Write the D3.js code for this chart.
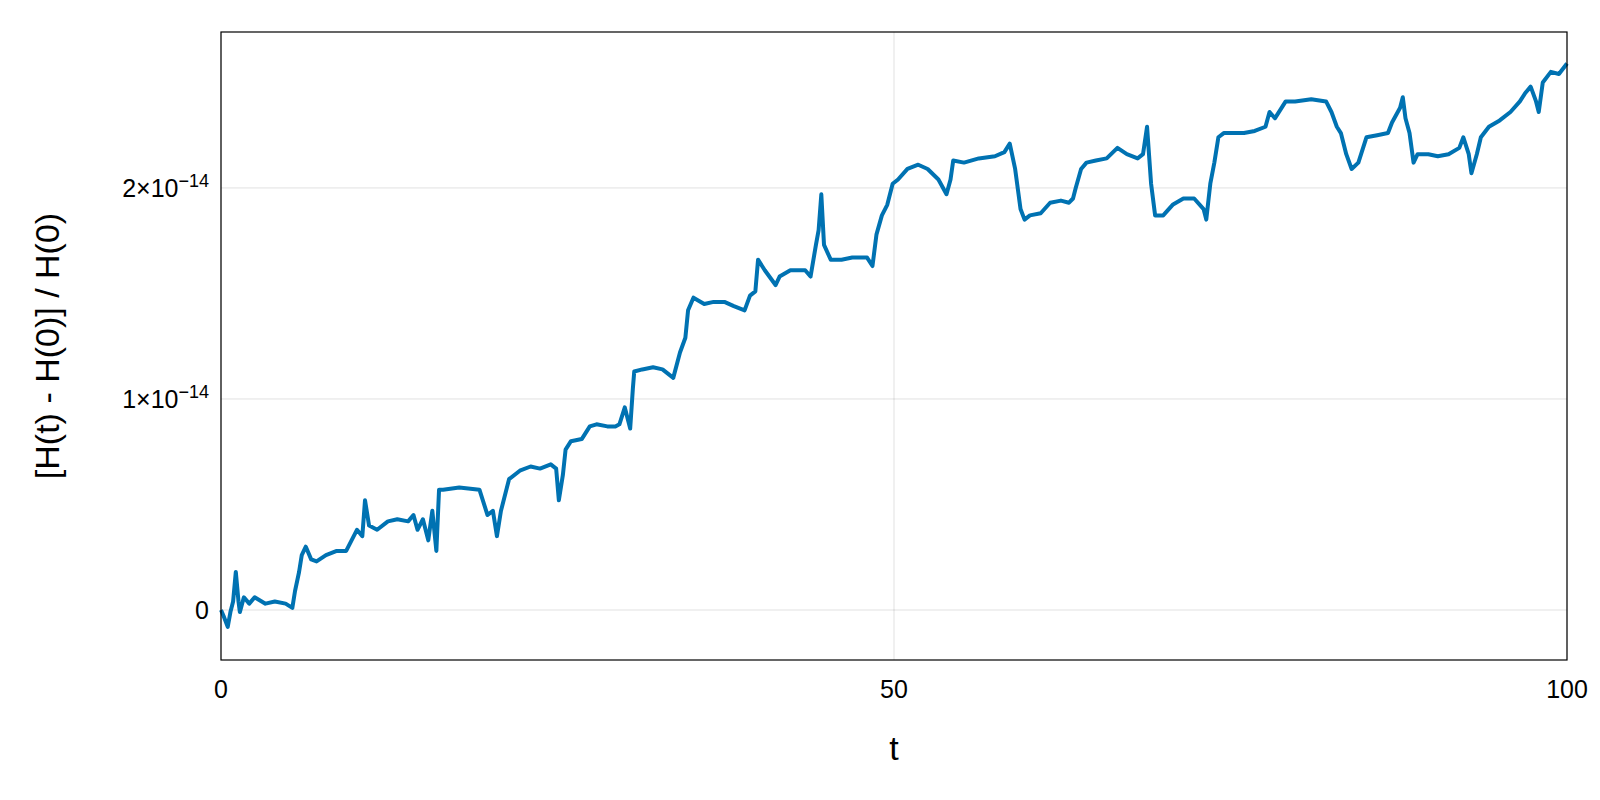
<!DOCTYPE html>
<html>
<head>
<meta charset="utf-8">
<script src="https://cdn.jsdelivr.net/npm/d3@7"></script>
<style>
  body { margin: 0; background: #fff; }
  text { font-family: "Liberation Sans", Arial, sans-serif; fill: #000; }
</style>
</head>
<body>
<div id="chart"></div>
<script>
// time values
let tValues = [0, 0.2, 0.5, 0.7, 0.9, 1.1, 1.3, 1.4, 1.7, 2.1, 2.5, 3.3, 4.0, 4.8, 5.3, 5.5, 5.8, 6.0, 6.3, 6.7,
    7.1, 7.8, 8.6, 9.3, 9.7, 10.1, 10.5, 10.7, 11.0, 11.6, 12.4, 13.1, 13.9, 14.3, 14.6, 15.0, 15.4, 15.7, 16.0, 16.2,
    16.5, 17.7, 19.2, 19.8, 20.2, 20.5, 20.8, 21.4, 22.2, 23.0, 23.7, 24.5, 24.9, 25.1, 25.4, 25.6, 26.0, 26.8, 27.4, 27.9,
    28.7, 29.3, 29.6, 30.0, 30.4, 30.6, 30.7, 31.3, 32.1, 32.8, 33.6, 34.1, 34.5, 34.7, 35.1, 35.9, 36.6, 37.4, 38.1, 38.9,
    39.3, 39.7, 39.9, 40.4, 41.2, 41.5, 42.3, 43.4, 43.8, 44.2, 44.4, 44.6, 44.8, 45.3, 46.1, 46.9, 48.0, 48.4, 48.7, 49.1,
    49.5, 49.9, 50.3, 51.0, 51.8, 52.5, 53.3, 53.9, 54.2, 54.4, 55.2, 56.3, 57.5, 58.2, 58.6, 59.0, 59.4, 59.7, 60.1, 60.9,
    61.6, 62.4, 63.0, 63.3, 63.5, 63.9, 64.3, 65.0, 65.8, 66.6, 67.3, 68.1, 68.5, 68.8, 69.1, 69.4, 70.0, 70.7, 71.5, 72.3,
    73.0, 73.2, 73.5, 73.8, 74.1, 74.5, 75.3, 76.0, 76.8, 77.6, 77.9, 78.3, 79.1, 79.8, 81.0, 82.1, 82.5, 82.9, 83.2, 83.6,
    84.0, 84.5, 85.1, 85.9, 86.7, 87.0, 87.6, 87.8, 88.0, 88.3, 88.6, 88.9, 89.7, 90.4, 91.2, 92.0, 92.3, 92.7, 92.9, 93.3,
    93.6, 94.2, 95.0, 95.8, 96.5, 96.9, 97.3, 97.7, 97.9, 98.2, 98.8, 99.4, 100];

// relative energy error, in units of 1e-14
let hValues = [0, -0.03, -0.08, -0.01, 0.04, 0.18, 0.04, -0.01, 0.06, 0.03, 0.06, 0.03, 0.04, 0.03, 0.01, 0.09, 0.18, 0.26, 0.30, 0.24,
    0.23, 0.26, 0.28, 0.28, 0.33, 0.38, 0.35, 0.52, 0.40, 0.38, 0.42, 0.43, 0.42, 0.45, 0.38, 0.43, 0.33, 0.47, 0.28, 0.57,
    0.57, 0.58, 0.57, 0.45, 0.47, 0.35, 0.47, 0.62, 0.66, 0.68, 0.67, 0.69, 0.67, 0.52, 0.64, 0.76, 0.80, 0.81, 0.87, 0.88,
    0.87, 0.87, 0.88, 0.96, 0.86, 1.05, 1.13, 1.14, 1.15, 1.14, 1.10, 1.22, 1.29, 1.42, 1.48, 1.45, 1.46, 1.46, 1.44, 1.42,
    1.49, 1.51, 1.66, 1.61, 1.54, 1.58, 1.61, 1.61, 1.58, 1.73, 1.80, 1.97, 1.73, 1.66, 1.66, 1.67, 1.67, 1.63, 1.78, 1.87,
    1.92, 2.02, 2.04, 2.09, 2.11, 2.09, 2.04, 1.97, 2.04, 2.13, 2.12, 2.14, 2.15, 2.17, 2.21, 2.09, 1.90, 1.85, 1.87, 1.88,
    1.93, 1.94, 1.93, 1.95, 2.00, 2.09, 2.12, 2.13, 2.14, 2.19, 2.16, 2.14, 2.16, 2.29, 2.02, 1.87, 1.87, 1.92, 1.95, 1.95,
    1.90, 1.85, 2.02, 2.12, 2.24, 2.26, 2.26, 2.26, 2.27, 2.29, 2.36, 2.33, 2.41, 2.41, 2.42, 2.41, 2.36, 2.29, 2.26, 2.16,
    2.09, 2.12, 2.24, 2.25, 2.26, 2.31, 2.38, 2.43, 2.33, 2.26, 2.12, 2.16, 2.16, 2.15, 2.16, 2.19, 2.24, 2.16, 2.07, 2.16,
    2.24, 2.29, 2.32, 2.36, 2.41, 2.45, 2.48, 2.41, 2.36, 2.50, 2.55, 2.54, 2.59];

let xTicks = [0, 50, 100];
let yTicks = [0, 1, 2];

let margin = {top: 32, right: 33, bottom: 140, left: 221};
let width = 1600 - margin.left - margin.right;
let height = 800 - margin.top - margin.bottom;

let root = d3.select('#chart').append('svg')
    .attr('width', 1600)
    .attr('height', 800);
let svg = root.append('g')
    .attr('transform', 'translate(' + margin.left + ', ' + margin.top + ')');

let x = d3.scaleLinear().domain([0, 100]).range([0, width]);
let y = d3.scaleLinear().domain([-0.237, 2.739]).range([height, 0]);

// grid
svg.selectAll('.gx').data(xTicks).enter().append('line')
    .attr('x1', d => x(d)).attr('x2', d => x(d))
    .attr('y1', 0).attr('y2', height)
    .style('stroke', '#000').style('stroke-opacity', 0.12).style('stroke-width', 1);
svg.selectAll('.gy').data(yTicks).enter().append('line')
    .attr('y1', d => y(d)).attr('y2', d => y(d))
    .attr('x1', 0).attr('x2', width)
    .style('stroke', '#000').style('stroke-opacity', 0.12).style('stroke-width', 1);

// data line
let data = tValues.map((t, i) => ({t: t, h: hValues[i]}));
svg.append('path')
    .datum(data)
    .attr('d', d3.line().x(d => x(d.t)).y(d => y(d.h)))
    .style('fill', 'none')
    .style('stroke', '#0072b2')
    .style('stroke-width', 4)
    .style('stroke-linejoin', 'round');

// frame
svg.append('rect')
    .attr('width', width).attr('height', height)
    .style('fill', 'none').style('stroke', '#000').style('stroke-width', 1.2);

// x tick labels
svg.selectAll('.xt').data(xTicks).enter().append('text')
    .attr('x', d => x(d)).attr('y', height + 38)
    .attr('text-anchor', 'middle')
    .style('font-size', '25px')
    .text(d => d);

// y tick labels
let yt = svg.selectAll('.yt').data(yTicks).enter().append('text')
    .attr('x', -12).attr('y', d => y(d) + 9)
    .attr('text-anchor', 'end')
    .style('font-size', '25px');
yt.each(function (d) {
    let el = d3.select(this);
    if (d == 0) { el.text('0'); return; }
    el.append('tspan').text(d + '×10');
    el.append('tspan').attr('dy', -10).style('font-size', '18px').text('−14');
});

// axis labels
svg.append('text')
    .attr('x', width / 2).attr('y', height + 100)
    .attr('text-anchor', 'middle')
    .style('font-size', '34px')
    .text('t');
svg.append('text')
    .attr('transform', 'translate(' + (-162) + ',' + (height / 2) + ') rotate(-90)')
    .attr('text-anchor', 'middle')
    .style('font-size', '34px')
    .text('[H(t) - H(0)] / H(0)');
</script>
</body>
</html>
